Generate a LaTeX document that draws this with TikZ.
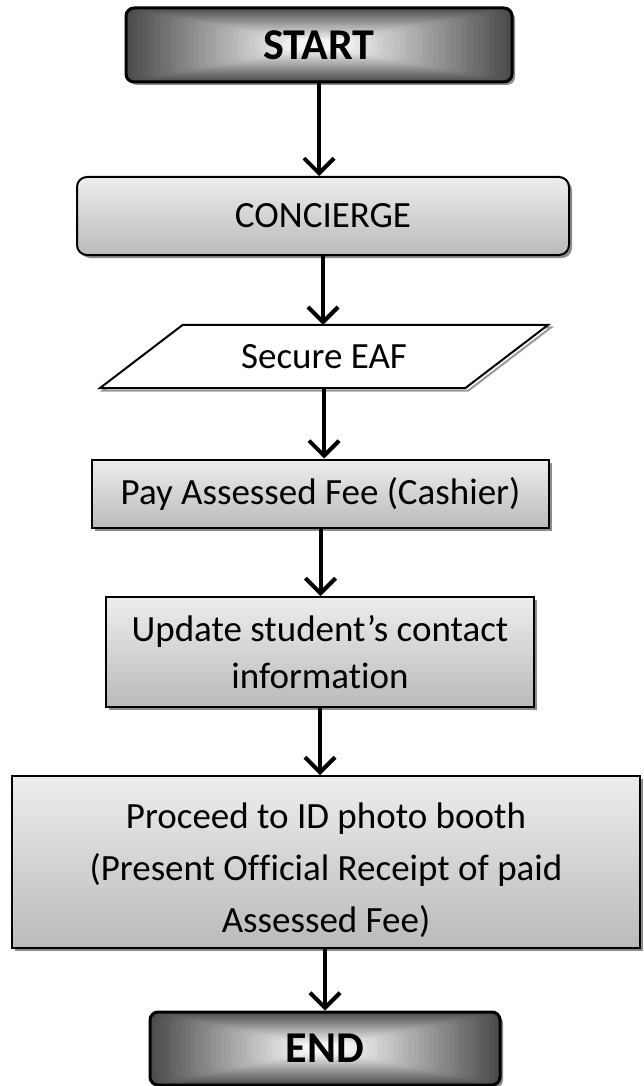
\documentclass[tikz,border=0pt]{standalone}
\usepackage{fontspec}
\setmainfont{Carlito}[Ligatures=NoCommon,RawFeature={-liga;-dlig;-calt}]
\usetikzlibrary{arrows.meta,shadows,calc}
\newcommand\lowertext[2]{\raisebox{0pt}[\dimexpr\height+#1\relax][\depth]{\begin{tabular}{@{}c@{}}#2\end{tabular}}}
\begin{document}
\begin{tikzpicture}[x=1pt,y=-1pt,
  shad/.style={drop shadow={shadow xshift=3pt,shadow yshift=-3pt,fill=black!45,opacity=1}},
  base/.style={font=\fontsize{37}{47}\selectfont, align=center, inner sep=0pt, line width=2pt, draw=black},
  procbox/.style={base, shad, rectangle, top color=black!7, bottom color=black!27},
  iotext/.style={font=\fontsize{37}{47}\selectfont, inner sep=0pt, rectangle},
  iopath/.style={line width=2pt, draw=black, fill=white, line join=miter},
  iosh/.style={line width=2pt, draw=black!40, line join=miter},
  term/.style={base, shad, rectangle, rounded corners=8pt, line width=3pt,
    font=\fontsize{44}{50}\selectfont\bfseries,
    path picture={
      \foreach \i in {0,...,30}{
        \pgfmathsetmacro\f{\i*0.0145}
        \pgfmathtruncatemacro\p{30+\i*2.25}
        \fill[white!\p!black] ($(path picture bounding box.south west)!\f!(path picture bounding box.north east)$)
          rectangle ($(path picture bounding box.north east)!\f!(path picture bounding box.south west)$);
      }}},
  flow/.style={line width=4pt, -{Straight Barb[length=15pt,width=30pt]},
    preaction={draw=black!35, transform canvas={xshift=1.5pt,yshift=-1.5pt}}}
]
\useasboundingbox (0,0) rectangle (643,1086);
\node[term, minimum width=386pt, minimum height=74pt] (start) at (319,45) {START};
\node[procbox, rounded corners=10pt, minimum width=492pt, minimum height=78pt] (conc) at (323,216) {CONCIERGE};
\node[iotext, minimum width=365pt, minimum height=63pt] (eaf) at (324,356.5) {Secure EAF};
\draw[iosh] ($(eaf.north west)+(44.5pt,-2.5pt)$) -- ($(eaf.north east)+(44.5pt,-2.5pt)$) -- ($(eaf.south east)+(-38.5pt,-2.5pt)$) -- ($(eaf.south west)+(-38.5pt,-2.5pt)$) -- cycle;
\draw[iopath] ($(eaf.north west)+(41.5pt,0pt)$) -- ($(eaf.north east)+(41.5pt,0pt)$) -- ($(eaf.south east)+(-41.5pt,0pt)$) -- ($(eaf.south west)+(-41.5pt,0pt)$) -- cycle;
\node[iotext] at (eaf) {Secure EAF};
\node[procbox, minimum width=457pt, minimum height=68pt] (pay) at (320.5,493.5) {Pay Assessed Fee (Cashier)};
\node[procbox, minimum width=428pt, minimum height=110pt] (upd) at (320,652) {Update student’s contact\\informat\kern0pt ion};
\node[procbox, minimum width=628pt, minimum height=164pt, font=\fontsize{37}{52}\selectfont] (proc) at (326,862) {\lowertext{16pt}{Proceed to ID photo booth\\(Present Of\kern0pt f\kern0pt icial Receipt of paid\\Assessed Fee)}};
\node[term, minimum width=350pt, minimum height=73pt] (end) at (325,1048.5) {END};
\draw[flow] (start.south) -- (start.south |- conc.north);
\draw[flow] (conc.south) -- (conc.south |- eaf.north);
\draw[flow] (eaf.south) -- (eaf.south |- pay.north);
\draw[flow] (pay.south) -- (pay.south |- upd.north);
\draw[flow] (upd.south) -- (upd.south |- proc.north);
\draw[flow] (end.north |- proc.south) -- (end.north);
\end{tikzpicture}
\end{document}
